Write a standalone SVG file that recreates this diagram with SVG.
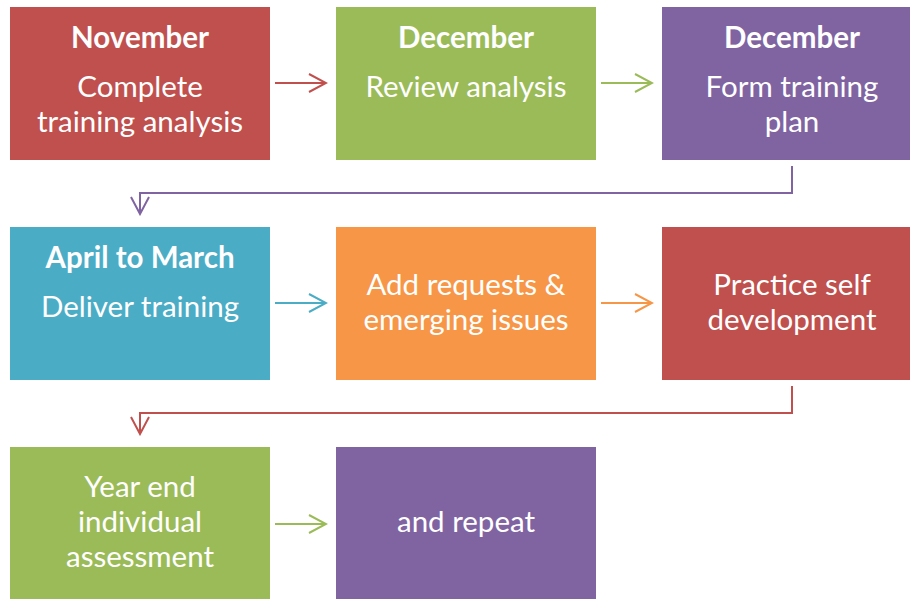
<svg xmlns="http://www.w3.org/2000/svg" width="910" height="599" viewBox="0 0 910 599">
<defs>
<style>
text{font-family:Lato,"Open Sans","Liberation Sans",sans-serif;font-size:29.5px;fill:#fff;text-anchor:middle}
.b{font-weight:bold}
.c{fill:none;stroke-width:2}
</style>
<marker id="mr" viewBox="0 0 20 20" refX="18" refY="10" markerWidth="20" markerHeight="20" markerUnits="userSpaceOnUse" orient="auto"><path d="M1,1 L18,10 L1,19" fill="none" stroke="#C0504D" stroke-width="2"/></marker>
<marker id="mg" viewBox="0 0 20 20" refX="18" refY="10" markerWidth="20" markerHeight="20" markerUnits="userSpaceOnUse" orient="auto"><path d="M1,1 L18,10 L1,19" fill="none" stroke="#9BBB59" stroke-width="2"/></marker>
<marker id="mp" viewBox="0 0 20 20" refX="18" refY="10" markerWidth="20" markerHeight="20" markerUnits="userSpaceOnUse" orient="auto"><path d="M1,1 L18,10 L1,19" fill="none" stroke="#8064A2" stroke-width="2"/></marker>
<marker id="mb" viewBox="0 0 20 20" refX="18" refY="10" markerWidth="20" markerHeight="20" markerUnits="userSpaceOnUse" orient="auto"><path d="M1,1 L18,10 L1,19" fill="none" stroke="#4BACC6" stroke-width="2"/></marker>
<marker id="mo" viewBox="0 0 20 20" refX="18" refY="10" markerWidth="20" markerHeight="20" markerUnits="userSpaceOnUse" orient="auto"><path d="M1,1 L18,10 L1,19" fill="none" stroke="#F79646" stroke-width="2"/></marker>
</defs>
<g id="connectors">
<path class="c" d="M275,83 H326" stroke="#C0504D" marker-end="url(#mr)"/>
<path class="c" d="M601,83 H652" stroke="#9BBB59" marker-end="url(#mg)"/>
<path class="c" d="M792,166 V193 H140 V214" stroke="#8064A2" marker-end="url(#mp)"/>
<path class="c" d="M275,303 H326" stroke="#4BACC6" marker-end="url(#mb)"/>
<path class="c" d="M601,303 H652" stroke="#F79646" marker-end="url(#mo)"/>
<path class="c" d="M792,386 V413 H140 V434" stroke="#C0504D" marker-end="url(#mr)"/>
<path class="c" d="M275,524 H326" stroke="#9BBB59" marker-end="url(#mg)"/>
</g>
<g id="n1"><rect x="10" y="7" width="260" height="153" fill="#C0504D"/><text class="b" x="140" y="48">November</text><text x="140" y="97">Complete</text><text x="140" y="132">training analysis</text></g>
<g id="n2"><rect x="336" y="7" width="260" height="153" fill="#9BBB59"/><text class="b" x="466" y="48">December</text><text x="466" y="97">Review analysis</text></g>
<g id="n3"><rect x="662" y="7" width="248" height="153" fill="#8064A2"/><text class="b" x="792" y="48">December</text><text x="792" y="97">Form training</text><text x="792" y="132">plan</text></g>
<g id="n4"><rect x="10" y="227" width="260" height="153" fill="#4BACC6"/><text class="b" x="140" y="268">April to March</text><text x="140" y="317">Deliver training</text></g>
<g id="n5"><rect x="336" y="227" width="260" height="153" fill="#F79646"/><text x="466" y="295">Add requests &amp;</text><text x="466" y="330">emerging issues</text></g>
<g id="n6"><rect x="662" y="227" width="248" height="153" fill="#C0504D"/><text x="792" y="295">Practice self</text><text x="792" y="330">development</text></g>
<g id="n7"><rect x="10" y="447" width="260" height="152" fill="#9BBB59"/><text x="140" y="497">Year end</text><text x="140" y="532">individual</text><text x="140" y="567">assessment</text></g>
<g id="n8"><rect x="336" y="447" width="260" height="152" fill="#8064A2"/><text x="466" y="532">and repeat</text></g>
</svg>
